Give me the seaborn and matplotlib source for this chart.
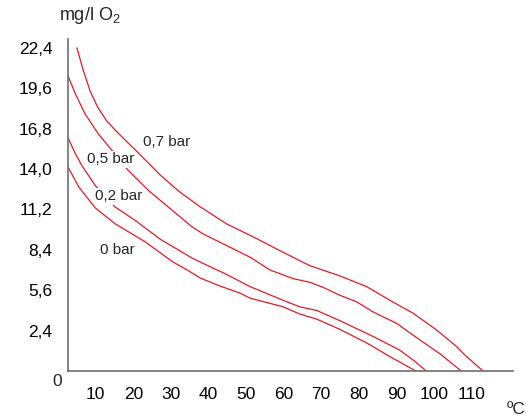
import pandas as pd
import numpy as np
import matplotlib
matplotlib.use("Agg")
import matplotlib.pyplot as plt
import seaborn as sns

# valeurs (temperature en °C, O2 en mg/l)
pressures = ['0 bar', '0,2 bar', '0,5 bar', '0,7 bar']

temp_0 = [2.4, 5.5, 9.9, 15.2, 23.2, 30.3, 34.7, 37.8, 43.0, 48.4, 51.1, 59.9, 64.3, 68.8, 74.9, 82.1, 88.3, 95.2]
o2_0 = [14.25, 12.75, 11.3, 10.2, 8.95, 7.6, 6.95, 6.45, 5.9, 5.4, 5.05, 4.45, 3.95, 3.6, 2.9, 1.95, 1.0, 0.0]

temp_02 = [2.4, 4.6, 6.4, 9.9, 15.2, 20.5, 27.1, 35.8, 44.0, 51.1, 59.9, 64.3, 68.8, 74.9, 83.8, 90.9, 94.5, 98.0]
o2_02 = [16.3, 15.05, 14.2, 12.85, 11.36, 10.44, 9.15, 7.8, 6.8, 5.85, 4.9, 4.45, 4.2, 3.5, 2.4, 1.45, 0.76, 0.0]

temp_05 = [2.4, 4.6, 7.2, 10.8, 14.3, 18.5, 24.1, 30.3, 35.6, 38.6, 44.8, 51.0, 53.7, 56.4, 62.6, 67.0, 70.5,
           74.9, 79.4, 83.8, 90.1, 96.3, 101.6, 107.3]
o2_05 = [20.6, 19.2, 17.8, 16.4, 15.3, 13.95, 12.5, 11.15, 10.0, 9.5, 8.7, 7.9, 7.45, 7.0, 6.4, 6.15, 5.8,
         5.26, 4.8, 4.1, 3.3, 2.15, 1.2, 0.0]

temp_07 = [5.0, 6.5, 8.5, 10.5, 13.0, 16.1, 21.4, 27.1, 32.4, 37.7, 44.8, 51.9, 58.6, 64.3, 67.0, 74.9, 82.1,
           88.3, 94.5, 100.7, 106.0, 108.7, 113.1]
o2_07 = [22.4, 21.0, 19.4, 18.3, 17.3, 16.45, 15.1, 13.6, 12.4, 11.4, 10.2, 9.3, 8.4, 7.65, 7.3, 6.6, 5.85,
         4.9, 4.0, 2.85, 1.7, 1.0, 0.0]

y_ticks = [2.8, 5.6, 8.4, 11.2, 14.0, 16.8, 19.6, 22.4]
y_labels = ['2,4', '5,6', '8,4', '11,2', '14,0', '16,8', '19,6', '22,4']
x_ticks = [10, 20, 30, 40, 50, 60, 70, 80, 90, 100, 110]

# positions des etiquettes (x, y)
label_pos = {'0 bar': (15.85, 8.42), '0,2 bar': (16.1, 12.1),
             '0,5 bar': (14.1, 14.66), '0,7 bar': (29.0, 15.84)}

### Mise en forme des donnees ###
frames = []
for p, t, o in zip(pressures, [temp_0, temp_02, temp_05, temp_07], [o2_0, o2_02, o2_05, o2_07]):
    frames.append(pd.DataFrame({'temp': t, 'o2': o, 'pression': p}))
df = pd.concat(frames, ignore_index=True)

sns.set_style('white')
plt.rcParams['font.family'] = ['Liberation Sans', 'DejaVu Sans']

fig = plt.figure(figsize=(5.26, 4.16), dpi=100)
ax = fig.add_axes([0.1287, 0.108, 0.8463, 0.798])

red = '#e31b23'
sns.lineplot(data=df, x='temp', y='o2', hue='pression', palette=[red] * 4,
             estimator=None, sort=False, legend=False, linewidth=0.9, ax=ax)

# etiquettes des courbes (fond blanc pour couper les courbes 0,2 et 0,5)
for p, (lx, ly) in label_pos.items():
    bbox = None
    if p in ('0,2 bar', '0,5 bar'):
        bbox = dict(facecolor='white', edgecolor='none', pad=1.0)
    ax.text(lx, ly, p, fontsize=11, ha='center', va='center', bbox=bbox, zorder=5)

ax.set_xlim(2.55, 121)
ax.set_ylim(0, 23)
ax.set_xticks(x_ticks)
ax.set_xticklabels([str(v) for v in x_ticks])
ax.set_yticks(y_ticks)
ax.set_yticklabels(y_labels)
ax.set_xlabel('')
ax.set_ylabel('')

for side in ['top', 'right']:
    ax.spines[side].set_visible(False)
for side in ['left', 'bottom']:
    ax.spines[side].set_color('#707070')
    ax.spines[side].set_linewidth(1.2)

ax.tick_params(axis='both', direction='out', length=7.5, width=1.0, color='#9a9a9a',
               labelsize=12.5, labelcolor='black', pad=3.5)
ax.tick_params(axis='x', pad=4)

# textes hors axes
fig.text(90 / 526, 1 - 16 / 416, 'mg/l O$_\\mathregular{2}$', fontsize=13, ha='center', va='center')
fig.text(57 / 526, 1 - 381 / 416, '0', fontsize=12.5, ha='center', va='center')
fig.text(516 / 526, 1 - 409 / 416, 'ºC', fontsize=12.5, ha='center', va='center')

fig.savefig('out.png', dpi=100)
